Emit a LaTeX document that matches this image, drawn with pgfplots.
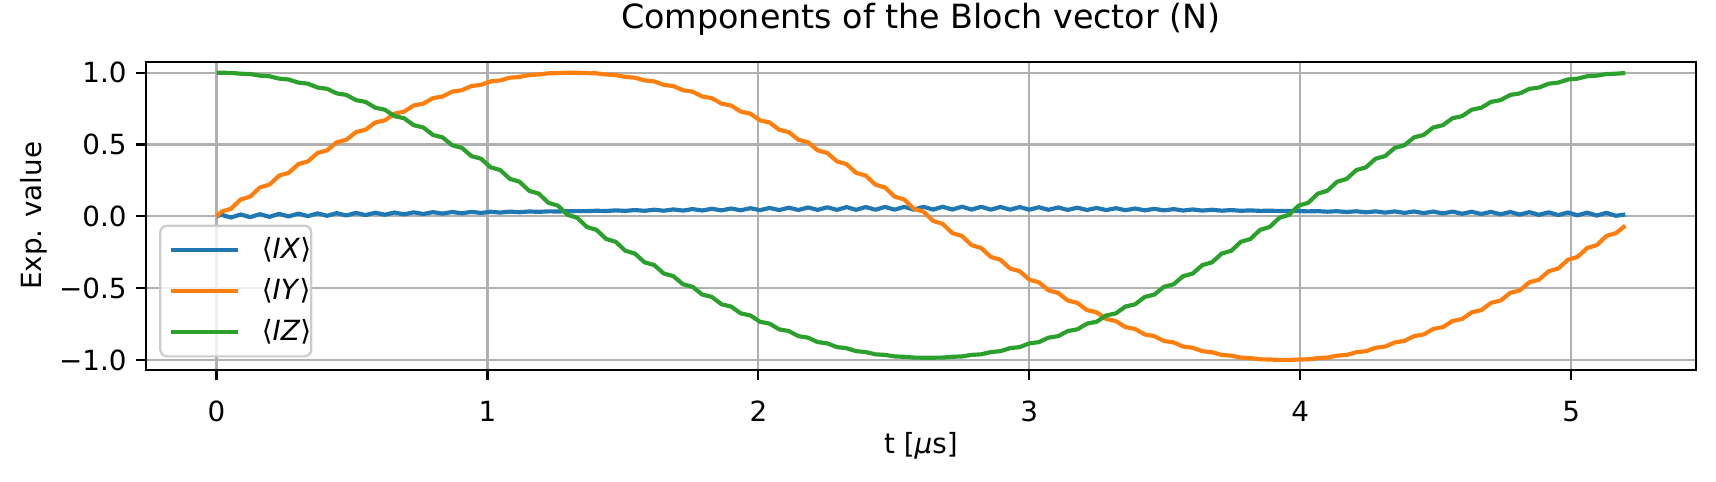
\documentclass[border=0pt]{standalone}
\usepackage{fontspec}
\setmainfont{DejaVu Sans}
\usepackage{pgfplots}
\usepackage{pgfplotstable}
\pgfplotsset{compat=1.18}
\usetikzlibrary{calc}
\definecolor{C0}{HTML}{1F77B4}
\definecolor{C1}{HTML}{FF7F0E}
\definecolor{C2}{HTML}{2CA02C}
\definecolor{gridc}{HTML}{B0B0B0}
\definecolor{legc}{HTML}{CCCCCC}

\pgfplotstableread{
t ix iy iz
0 0 0 1
0.0178 0.0106 0.0322 0.9996
0.0533 -0.0083 0.0526 0.9987
0.0888 0.0127 0.1168 0.9932
0.1243 -0.0059 0.1371 0.9905
0.1598 0.0149 0.2007 0.9796
0.1953 -0.0035 0.2207 0.9753
0.2308 0.0170 0.2831 0.9589
0.2663 -0.0010 0.3027 0.9527
0.3018 0.0189 0.3634 0.9313
0.3373 0.0012 0.3824 0.9235
0.3728 0.0204 0.4411 0.8969
0.4083 0.0036 0.4594 0.8876
0.4438 0.0220 0.5156 0.8560
0.4793 0.0060 0.5331 0.8452
0.5148 0.0236 0.5864 0.8090
0.5503 0.0085 0.6029 0.7967
0.5858 0.0250 0.6530 0.7561
0.6213 0.0110 0.6684 0.7424
0.6568 0.0265 0.7149 0.6978
0.6923 0.0136 0.7291 0.6829
0.7278 0.0278 0.7716 0.6345
0.7633 0.0162 0.7845 0.6185
0.7988 0.0290 0.8228 0.5666
0.8343 0.0186 0.8342 0.5496
0.8698 0.0300 0.8681 0.4948
0.9053 0.0210 0.8780 0.4769
0.9408 0.0309 0.9070 0.4195
0.9763 0.0235 0.9155 0.4008
1.0118 0.0318 0.9395 0.3411
1.0473 0.0260 0.9463 0.3219
1.0828 0.0327 0.9652 0.2605
1.1183 0.0285 0.9704 0.2407
1.1538 0.0336 0.9839 0.1780
1.1893 0.0310 0.9874 0.1579
1.2248 0.0345 0.9956 0.0943
1.2603 0.0336 0.9973 0.0741
1.2958 0.0352 1.0000 0.0101
1.3313 0.0361 1.0000 -0.0101
1.3668 0.0362 0.9973 -0.0740
1.4023 0.0388 0.9956 -0.0942
1.4379 0.0370 0.9874 -0.1575
1.4734 0.0413 0.9839 -0.1775
1.5089 0.0379 0.9704 -0.2399
1.5444 0.0436 0.9652 -0.2594
1.5799 0.0385 0.9463 -0.3204
1.6154 0.0458 0.9395 -0.3393
1.6509 0.0391 0.9155 -0.3984
1.6864 0.0480 0.9070 -0.4168
1.7219 0.0397 0.8780 -0.4735
1.7574 0.0503 0.8681 -0.4910
1.7929 0.0405 0.8342 -0.5451
1.8284 0.0524 0.8228 -0.5617
1.8639 0.0412 0.7845 -0.6128
1.8994 0.0544 0.7716 -0.6284
1.9349 0.0419 0.7291 -0.6760
1.9704 0.0565 0.7149 -0.6903
2.0059 0.0427 0.6684 -0.7342
2.0414 0.0583 0.6530 -0.7474
2.0769 0.0433 0.6029 -0.7872
2.1124 0.0600 0.5864 -0.7991
2.1479 0.0440 0.5331 -0.8345
2.1834 0.0615 0.5156 -0.8449
2.2189 0.0447 0.4594 -0.8759
2.2544 0.0630 0.4411 -0.8848
2.2899 0.0451 0.3824 -0.9108
2.3254 0.0640 0.3634 -0.9182
2.3609 0.0454 0.3027 -0.9392
2.3964 0.0648 0.2831 -0.9451
2.4319 0.0458 0.2207 -0.9611
2.4674 0.0655 0.2007 -0.9651
2.5029 0.0461 0.1371 -0.9758
2.5384 0.0661 0.1168 -0.9783
2.5739 0.0463 0.0526 -0.9837
2.6094 0.0664 0.0322 -0.9846
2.6449 0.0466 -0.0322 -0.9846
2.6804 0.0667 -0.0526 -0.9837
2.7159 0.0470 -0.1168 -0.9783
2.7514 0.0669 -0.1371 -0.9758
2.7869 0.0469 -0.2007 -0.9651
2.8225 0.0661 -0.2207 -0.9611
2.8580 0.0465 -0.2831 -0.9451
2.8935 0.0654 -0.3027 -0.9392
2.9290 0.0462 -0.3634 -0.9182
2.9645 0.0645 -0.3824 -0.9108
3.0000 0.0460 -0.4411 -0.8848
3.0355 0.0632 -0.4594 -0.8759
3.0710 0.0453 -0.5156 -0.8449
3.1065 0.0617 -0.5331 -0.8345
3.1420 0.0445 -0.5864 -0.7991
3.1775 0.0601 -0.6029 -0.7872
3.2130 0.0440 -0.6530 -0.7474
3.2485 0.0584 -0.6684 -0.7342
3.2840 0.0432 -0.7149 -0.6903
3.3195 0.0564 -0.7291 -0.6760
3.3550 0.0425 -0.7716 -0.6284
3.3905 0.0543 -0.7845 -0.6128
3.4260 0.0417 -0.8228 -0.5617
3.4615 0.0522 -0.8342 -0.5451
3.4970 0.0410 -0.8681 -0.4910
3.5325 0.0500 -0.8780 -0.4735
3.5680 0.0403 -0.9070 -0.4168
3.6035 0.0478 -0.9155 -0.3984
3.6390 0.0397 -0.9395 -0.3393
3.6746 0.0456 -0.9463 -0.3204
3.7101 0.0391 -0.9652 -0.2594
3.7456 0.0434 -0.9704 -0.2399
3.7811 0.0385 -0.9839 -0.1775
3.8166 0.0412 -0.9874 -0.1575
3.8521 0.0379 -0.9956 -0.0942
3.8876 0.0388 -0.9973 -0.0740
3.9231 0.0373 -1.0000 -0.0101
3.9586 0.0366 -1.0000 0.0101
3.9941 0.0367 -0.9973 0.0741
4.0296 0.0343 -0.9956 0.0943
4.0651 0.0362 -0.9874 0.1579
4.1006 0.0321 -0.9839 0.1780
4.1361 0.0356 -0.9704 0.2407
4.1716 0.0299 -0.9652 0.2605
4.2071 0.0350 -0.9463 0.3219
4.2426 0.0277 -0.9395 0.3411
4.2781 0.0345 -0.9155 0.4008
4.3136 0.0257 -0.9070 0.4195
4.3491 0.0341 -0.8780 0.4769
4.3846 0.0237 -0.8681 0.4948
4.4201 0.0337 -0.8342 0.5496
4.4556 0.0219 -0.8228 0.5666
4.4911 0.0332 -0.7845 0.6185
4.5266 0.0201 -0.7716 0.6345
4.5621 0.0326 -0.7291 0.6829
4.5976 0.0179 -0.7149 0.6978
4.6331 0.0317 -0.6684 0.7424
4.6686 0.0160 -0.6530 0.7561
4.7041 0.0308 -0.6029 0.7967
4.7396 0.0140 -0.5864 0.8090
4.7751 0.0299 -0.5331 0.8452
4.8106 0.0122 -0.5156 0.8560
4.8461 0.0289 -0.4594 0.8876
4.8816 0.0104 -0.4411 0.8969
4.9171 0.0279 -0.3824 0.9235
4.9526 0.0085 -0.3634 0.9313
4.9881 0.0267 -0.3027 0.9527
5.0236 0.0069 -0.2831 0.9589
5.0592 0.0255 -0.2207 0.9753
5.0947 0.0053 -0.2007 0.9796
5.1302 0.0243 -0.1371 0.9905
5.1657 0.0038 -0.1168 0.9932
5.2000 0.0130 -0.0650 0.9979
}\datatable

\begin{document}
\begin{tikzpicture}
\begin{axis}[
  scale only axis,
  width=557.9pt, height=111pt,
  xmin=-0.26, xmax=5.46,
  ymin=-1.07, ymax=1.077,
  xtick={0,1,2,3,4,5},
  xticklabels={0,1,2,3,4,5},
  ytick={-1,-0.5,0,0.5,1},
  yticklabels={−1.0,−0.5,0.0,0.5,1.0},
  minor tick num=0,
  tick pos=left,
  tick align=outside,
  major tick length=3.5pt,
  every tick/.style={black, line width=0.8pt},
  axis line style={black, line width=0.8pt},
  grid=major,
  grid style={gridc, line width=0.8pt},
  tick label style={font=\fontsize{10}{12}\selectfont},
  xticklabel style={anchor=base, yshift=-15pt, inner sep=0pt},
  yticklabel style={anchor=east, xshift=-3.3pt, inner sep=0pt},
  title={Components of the Bloch vector (N)},
  title style={at={(axis description cs:0.5,1)}, anchor=base, yshift=6pt, inner sep=0pt, font=\fontsize{12}{14.4}\selectfont},
  xlabel={t [\textit{μ}s]},
  xlabel style={at={(axis description cs:0.5,-0.27)}, anchor=base, inner sep=0pt, font=\fontsize{10}{12}\selectfont},
  ylabel={Exp. value},
  ylabel style={at={(axis description cs:-0.0674,0.5)}, anchor=base, inner sep=0pt, font=\fontsize{10}{12}\selectfont},
  every axis plot/.append style={line width=1.5pt, line join=round},
  legend cell align=left,
  legend image code/.code={\path (-3.1pt,0pt); \draw[#1, line width=1.5pt] (0pt,0pt) -- (24pt,0pt);},
  legend style={at={(axis description cs:0.0084,0.0405)}, anchor=south west,
    draw=legc, line width=0.8pt, fill=white, fill opacity=0.8, draw opacity=1, text opacity=1,
    rounded corners=2.5pt, font=\fontsize{10}{12}\selectfont,
    inner xsep=0pt, inner ysep=2.3pt, row sep=1.6pt,
    nodes={inner ysep=2pt, inner xsep=0pt},
    /tikz/every odd column/.append style={column sep=8pt}},
]
\addplot[C0] table[x=t, y=ix] {\datatable};
\addlegendentry{⟨\textit{IX}⟩\hspace{1pt}}
\addplot[C1] table[x=t, y=iy] {\datatable};
\addlegendentry{⟨\textit{IY}⟩\hspace{1pt}}
\addplot[C2] table[x=t, y=iz] {\datatable};
\addlegendentry{⟨\textit{IZ}⟩\hspace{1pt}}
\end{axis}
\pgfresetboundingbox
\path[use as bounding box] ($(current axis.south west)+(-52.6pt,-40pt)$) rectangle ($(current axis.north east)+(7.3pt,22.2pt)$);
\end{tikzpicture}
\end{document}
